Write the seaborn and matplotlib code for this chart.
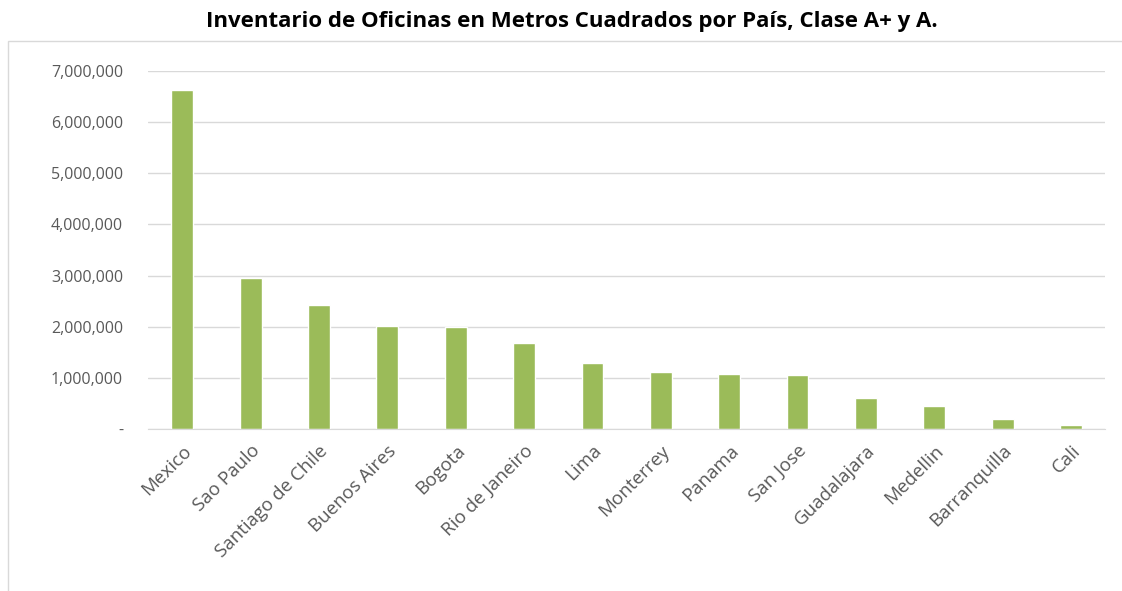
import matplotlib
matplotlib.use("Agg")
import matplotlib.pyplot as plt
import seaborn as sns
import pandas as pd
from matplotlib.patches import Rectangle
from matplotlib.ticker import FuncFormatter

ciudades = ["Mexico", "Sao Paulo", "Santiago de Chile", "Buenos Aires", "Bogota",
            "Rio de Janeiro", "Lima", "Monterrey", "Panama", "San Jose",
            "Guadalajara", "Medellin", "Barranquilla", "Cali"]
m2 = [6620000, 2960000, 2420000, 2020000, 1990000,
      1680000, 1290000, 1110000, 1070000, 1050000,
      610000, 460000, 200000, 70000]
titulo = "Inventario de Oficinas en Metros Cuadrados por País, Clase A+ y A."

sns.set_style("white")
plt.rcParams["font.family"] = ["Open Sans", "DejaVu Sans"]

df = pd.DataFrame({"ciudad": ciudades, "m2": m2})

fig = plt.figure(figsize=(11.22, 5.91), dpi=100)
ax = fig.add_axes([0.132, 0.274, 0.853, 0.606])

sns.barplot(data=df, x="ciudad", y="m2", color="#9BBB59", saturation=1,
            width=0.32, ax=ax)

ax.set_ylim(0, 7000000)
ax.set_yticks(range(0, 7000001, 1000000))
ax.yaxis.set_major_formatter(FuncFormatter(lambda v, p: "-" if v == 0 else f"{int(v):,}"))
ax.grid(axis="y", color="#d9d9d9", linewidth=1)
ax.set_axisbelow(True)
for s in ["left", "right", "top"]:
    ax.spines[s].set_visible(False)
ax.spines["bottom"].set_color("#d9d9d9")
ax.set_xlabel("")
ax.set_ylabel("")
ax.tick_params(axis="both", length=0, colors="#595959")
ax.tick_params(axis="y", pad=18, labelsize=11.5)
ax.tick_params(axis="x", pad=9, labelsize=13.5)
plt.setp(ax.get_xticklabels(), rotation=45, ha="right", rotation_mode="anchor")

fig.patches.append(Rectangle((0.007, -0.01), 1.0, 0.94, transform=fig.transFigure,
                             fill=False, edgecolor="#d9d9d9", linewidth=1))
fig.text(0.51, 0.963, titulo, ha="center", va="center", fontsize=16,
         fontweight="bold", color="#000000")

fig.savefig("out.png", dpi=100)
